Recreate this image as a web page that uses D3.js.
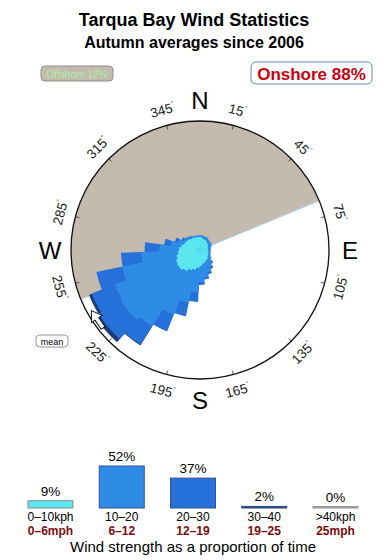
<!DOCTYPE html>
<html>
<head>
<meta charset="utf-8">
<script src="https://cdn.jsdelivr.net/npm/d3@7"></script>
<style>
  body { margin: 0; background: #fff; }
  svg { display: block; font-family: "Liberation Sans", Arial, Helvetica, sans-serif; }
</style>
</head>
<body>
<div id="chart"></div>
<script>
/* Wind rose data. Directions are bin centres in degrees (where the wind
** comes from), each band array holds the % of time for that bin.
*/
var directions = d3.range(0, 360, 10);
var band0to10 = [0.19, 0.16, 0.14, 0.14, 0.11, 0.11, 0.09, 0.07, 0.07, 0.07, 0.07, 0.09,
                 0.09, 0.11, 0.14, 0.16, 0.19, 0.22, 0.29, 0.37, 0.46, 0.55, 0.71, 0.83,
                 0.77, 0.66, 0.55, 0.50, 0.41, 0.33, 0.29, 0.26, 0.22, 0.22, 0.19, 0.19];
var band10to20 = [0.06, 0.09, 0.09, 0.09, 0.08, 0.08, 0.10, 0.09, 0.06, 0.06, 0.06, 0.05,
                  0.07, 0.11, 0.19, 0.29, 0.46, 0.67, 0.87, 1.64, 2.87, 5.03, 8.51, 9.23,
                  8.87, 6.63, 3.40, 1.40, 0.60, 0.30, 0.12, 0.07, 0.07, 0.07, 0.06, 0.06];
var band20to30 = [0, 0, 0, 0, 0, 0, 0, 0, 0, 0, 0, 0,
                  0, 0, 0.04, 0.10, 0.11, 0.13, 0.23, 1.07, 1.95, 3.24, 5.06, 6.34,
                  5.95, 5.51, 3.20, 1.60, 0.50, 0.17, 0.09, 0.04, 0.04, 0, 0, 0];
var band30to40 = [0, 0, 0, 0, 0, 0, 0, 0, 0, 0, 0, 0,
                  0, 0, 0, 0, 0, 0, 0, 0, 0, 0, 0.2, 1.2,
                  0.8, 0, 0, 0, 0, 0, 0, 0, 0, 0, 0, 0];

var bandNames = ["0\u201310kph", "10\u201320", "20\u201330", "30\u201340", ">40kph"];
var bandMph = ["0\u20136mph", "6\u201312", "12\u201319", "19\u201325", "25mph"];
var bandTotals = [9, 52, 37, 2, 0];

var degreeTicks = d3.range(15, 360, 30);
var compass = [["N", 0], ["E", 90], ["S", 180], ["W", 270]];
var offshoreFrom = 247.5, offshoreTo = 67.5;
var offshorePct = 12, onshorePct = 88;
var meanDirection = 236;

var config = {
    width: 390, height: 560,
    cx: 200, cy: 250, radius: 129,
    colors: ['#5ce6ee', '#2f8ce6', '#2671d9', '#1d3c7a', '#9a9a9a'],
    offshore: '#c5baae',
    petalHalfWidth: 8,
    baseline: 508
};

var svg = d3.select('#chart').append('svg')
    .attr('width', config.width)
    .attr('height', config.height);

// titles
svg.append('text').attr('x', 194).attr('y', 26).attr('text-anchor', 'middle')
    .attr('font-size', 18).attr('font-weight', 'bold').text('Tarqua Bay Wind Statistics');
svg.append('text').attr('x', 194).attr('y', 48).attr('text-anchor', 'middle')
    .attr('font-size', 16).attr('font-weight', 'bold').text('Autumn averages since 2006');

// offshore / onshore badges
svg.append('rect').attr('x', 41).attr('y', 66).attr('width', 72).attr('height', 15).attr('rx', 4)
    .attr('fill', config.offshore).attr('stroke', '#8c8c8c');
svg.append('text').attr('x', 77).attr('y', 77.5).attr('text-anchor', 'middle')
    .attr('font-size', 10).attr('fill', '#a8f29e').text('Offshore ' + offshorePct + '%');
svg.append('rect').attr('x', 251).attr('y', 62).attr('width', 121).attr('height', 22).attr('rx', 5)
    .attr('fill', '#fff').attr('stroke', '#6b86b0');
svg.append('text').attr('x', 311.5).attr('y', 79.5).attr('text-anchor', 'middle')
    .attr('font-size', 17).attr('font-weight', 'bold').attr('fill', '#cc0012')
    .text('Onshore ' + onshorePct + '%');

// rose
var angle = d3.scaleLinear().domain([0, 360]).range([0, 2 * Math.PI]);
var r = d3.scaleSqrt().domain([0, 19]).range([0, config.radius]);

var rose = svg.append('g')
    .attr('transform', 'translate(' + config.cx + ',' + config.cy + ')');

rose.append('circle').attr('r', config.radius).attr('fill', '#fff');

rose.append('path')
    .attr('d', d3.arc()({
        innerRadius: 0, outerRadius: config.radius,
        startAngle: angle(offshoreFrom), endAngle: angle(offshoreTo + 360)
    }))
    .attr('fill', config.offshore);

function polar(deg, rad) {
    var a = angle(deg);
    return [Math.sin(a) * rad, -Math.cos(a) * rad];
}

var p1 = polar(offshoreFrom, config.radius), p2 = polar(offshoreTo, config.radius);
rose.append('line')
    .attr('x1', p1[0]).attr('y1', p1[1]).attr('x2', p2[0]).attr('y2', p2[1])
    .attr('stroke', '#a9cfea').attr('stroke-width', 1);

// cumulative totals per direction, drawn outermost band first so the
// overlapping wedges give the stepped outline
var bands = [band0to10, band10to20, band20to30, band30to40];
var petals = [];
for (var k = bands.length - 1; k >= 0; k--) {
    directions.forEach(function (d, i) {
        var cum = 0;
        for (var j = 0; j <= k; j++) cum += bands[j][i];
        if (bands[k][i] > 0) petals.push({ dir: d, band: k, value: cum });
    });
}

var arc = d3.arc()
    .innerRadius(0)
    .outerRadius(function (d) { return r(d.value); })
    .startAngle(function (d) { return angle(d.dir - config.petalHalfWidth); })
    .endAngle(function (d) { return angle(d.dir + config.petalHalfWidth); });

rose.selectAll('.petal')
    .data(petals)
    .enter().append('path')
    .attr('class', 'petal')
    .attr('d', arc)
    .attr('fill', function (d) { return config.colors[d.band]; });

rose.append('circle').attr('r', config.radius)
    .attr('fill', 'none').attr('stroke', '#111').attr('stroke-width', 1.3);

// ticks and degree labels
rose.selectAll('.tick')
    .data(degreeTicks)
    .enter().append('line')
    .attr('x1', function (d) { return polar(d, config.radius - 4)[0]; })
    .attr('y1', function (d) { return polar(d, config.radius - 4)[1]; })
    .attr('x2', function (d) { return polar(d, config.radius)[0]; })
    .attr('y2', function (d) { return polar(d, config.radius)[1]; })
    .attr('stroke', '#333').attr('stroke-width', 0.8);

var degLabels = rose.selectAll('.deg')
    .data(degreeTicks)
    .enter().append('text')
    .attr('transform', function (d) {
        var p = polar(d, config.radius + 16);
        var rot = d % 180;
        if (rot > 90) rot -= 180;
        return 'translate(' + p[0] + ',' + p[1] + ') rotate(' + rot + ')';
    })
    .attr('text-anchor', 'middle')
    .attr('dominant-baseline', 'central')
    .attr('font-size', 13.5)
    .attr('fill', '#1a1a1a');
degLabels.append('tspan').text(function (d) { return d; });
degLabels.append('tspan').attr('font-size', 6).attr('dy', -4).text('\u00b0');

rose.selectAll('.compass')
    .data(compass)
    .enter().append('text')
    .attr('x', function (d) { return polar(d[1], 150)[0]; })
    .attr('y', function (d) { return polar(d[1], 150)[1]; })
    .attr('text-anchor', 'middle')
    .attr('dominant-baseline', 'central')
    .attr('font-size', 24)
    .text(function (d) { return d[0]; });

// mean direction arrow
var mp = polar(meanDirection, 124);
rose.append('path')
    .attr('d', 'M10.5,0 L0.5,6.5 L0.5,2.3 L-10.5,2.3 L-10.5,-2.3 L0.5,-2.3 L0.5,-6.5 Z')
    .attr('transform', 'translate(' + mp[0] + ',' + mp[1] + ') rotate(' + meanDirection + ')')
    .attr('fill', '#fff').attr('stroke', '#111').attr('stroke-width', 1);

svg.append('rect').attr('x', 36).attr('y', 335).attr('width', 32).attr('height', 12).attr('rx', 3.5)
    .attr('fill', '#fff').attr('stroke', '#777').attr('stroke-width', 0.8);
svg.append('text').attr('x', 52).attr('y', 344.5).attr('text-anchor', 'middle')
    .attr('font-size', 9).text('mean');

// speed band bar chart
var x = d3.scalePoint().domain(bandNames).range([50.5, 335.5]);
var h = d3.scaleLinear().domain([0, 52]).range([0, 42]);
var barW = 45;

var bars = svg.selectAll('.bar')
    .data(bandNames)
    .enter().append('g');

bars.append('rect')
    .attr('x', function (d) { return x(d) - barW / 2; })
    .attr('y', function (d, i) { return config.baseline - Math.max(h(bandTotals[i]), 1.5); })
    .attr('width', barW)
    .attr('height', function (d, i) { return Math.max(h(bandTotals[i]), 1.5); })
    .attr('fill', function (d, i) { return config.colors[i]; })
    .attr('stroke', function (d, i) { return i == 0 ? '#8a8a8a' : (i == 4 ? '#9a9a9a' : '#34508a'); })
    .attr('stroke-width', 1);

bars.append('text')
    .attr('x', function (d) { return x(d); })
    .attr('y', function (d, i) { return config.baseline - Math.max(h(bandTotals[i]), 1.5) - 5; })
    .attr('text-anchor', 'middle')
    .attr('font-size', 13.5)
    .text(function (d, i) { return bandTotals[i] + '%'; });

bars.append('text')
    .attr('x', function (d) { return x(d); })
    .attr('y', 521)
    .attr('text-anchor', 'middle')
    .attr('font-size', 12)
    .text(function (d) { return d; });

bars.append('text')
    .attr('x', function (d) { return x(d); })
    .attr('y', 534.5)
    .attr('text-anchor', 'middle')
    .attr('font-size', 12)
    .attr('font-weight', 'bold')
    .attr('fill', '#7d0a0a')
    .text(function (d, i) { return bandMph[i]; });

svg.append('text').attr('x', 193).attr('y', 552).attr('text-anchor', 'middle')
    .attr('font-size', 15).text('Wind strength as a proportion of time');
</script>
</body>
</html>
